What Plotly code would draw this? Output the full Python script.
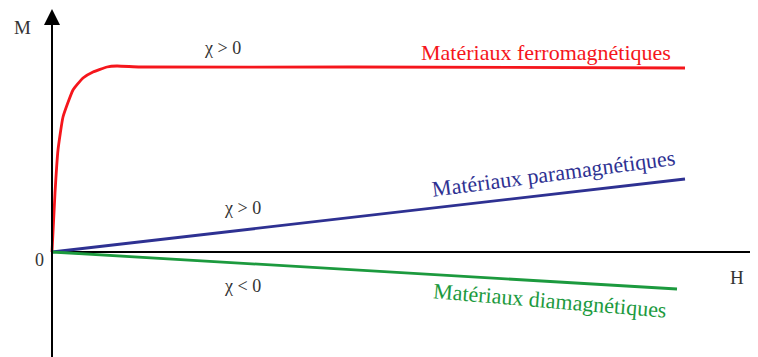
import plotly.graph_objects as go

# H / M values (origin at 0,0)
ferro_h = [0, 3, 6, 11, 21, 31, 41, 55, 65, 88, 300, 633]
ferro_m = [0, 59, 102, 135, 162, 174, 180, 185, 186, 185, 185, 184]

para_h = [0, 633]
para_m = [0, 73]

dia_h = [0, 625]
dia_m = [0, -37]

RED = "#f5161c"
BLUE = "#2e3192"
GREEN = "#1c9a3e"
TXT = "#333333"
FONT = "Liberation Serif"

fig = go.Figure()

fig.add_trace(go.Scatter(x=ferro_h, y=ferro_m, mode="lines",
                         line=dict(color=RED, width=2.8, shape="spline", smoothing=0.4)))
fig.add_trace(go.Scatter(x=para_h, y=para_m, mode="lines",
                         line=dict(color=BLUE, width=2.8)))
fig.add_trace(go.Scatter(x=dia_h, y=dia_m, mode="lines",
                         line=dict(color=GREEN, width=2.8)))

# axes drawn as arrows
fig.add_shape(type="line", x0=0, y0=0, x1=705, y1=0, line=dict(color="black", width=2), layer="below")
fig.add_shape(type="line", x0=705, y0=-5, x1=705, y1=5, line=dict(color="black", width=2), layer="below")
fig.add_annotation(x=0, y=243, ax=0, ay=-120, axref="x", ayref="y", xref="x", yref="y",
                   text="", showarrow=True, arrowhead=2, arrowsize=1.6, arrowwidth=2,
                   arrowcolor="black")


def label(x, y, text, color=TXT, size=18, angle=0):
    fig.add_annotation(x=x, y=y, text=text, showarrow=False, textangle=angle,
                       font=dict(family=FONT, size=size, color=color))


label(-30, 225, "M", size=19)
label(-13, -8, "0", size=18)
label(685, -25, "H", size=19)
label(170, 204, "χ > 0", size=18)
label(190, 44, "χ > 0", size=18)
label(190, -34, "χ < 0", size=18)
label(494, 200, "Matériaux ferromagnétiques", color=RED, size=22)
label(501, 79, "Matériaux paramagnétiques", color=BLUE, size=22, angle=-7.5)
label(498, -48, "Matériaux diamagnétiques", color=GREEN, size=22, angle=4.8)

# ranges shifted 8px to offset the page's body margin
fig.update_layout(
    width=758, height=357,
    margin=dict(l=0, r=0, t=0, b=0, autoexpand=False),
    plot_bgcolor="white", paper_bgcolor="white",
    showlegend=False,
    xaxis=dict(range=[-44, 714], visible=False),
    yaxis=dict(range=[-113, 244], visible=False),
)

fig.write_html("out.html")
